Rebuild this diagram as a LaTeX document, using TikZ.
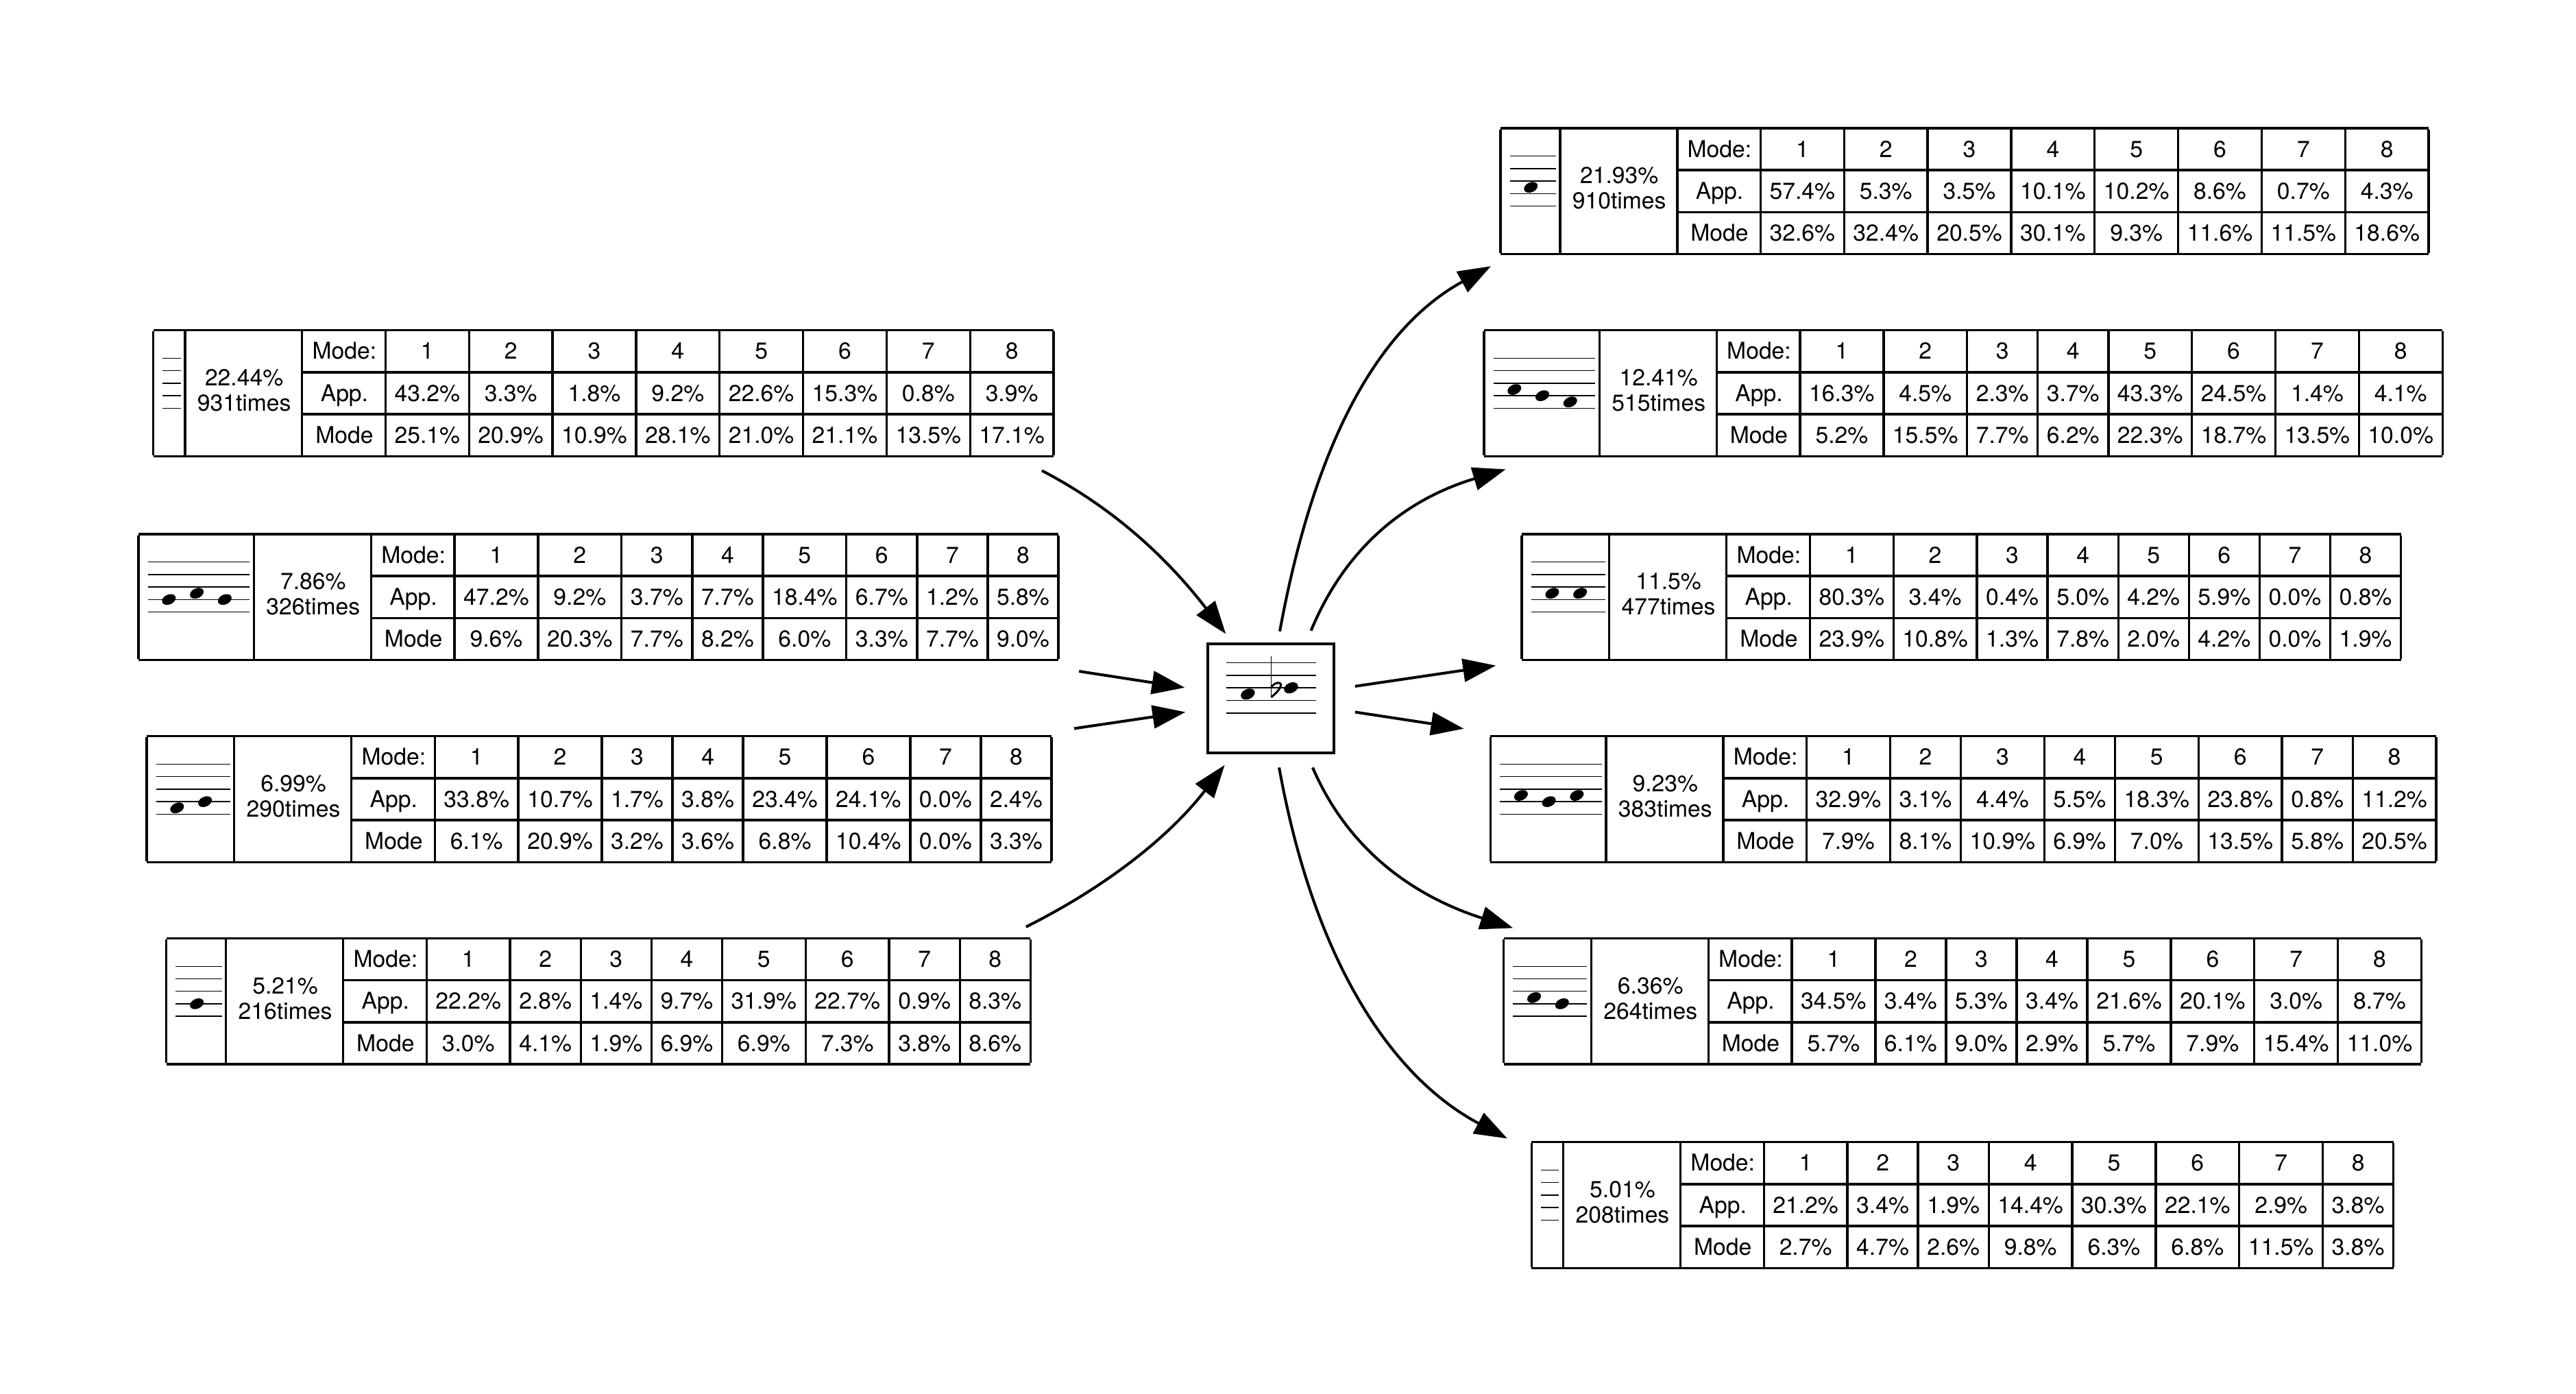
\documentclass[tikz,border=0pt]{standalone}
\usepackage{fontspec}
\setmainfont{TeX Gyre Heros}
\usetikzlibrary{arrows.meta,calc}
\setlength\tabcolsep{3.9pt}
\setlength\arrayrulewidth{1pt}
\renewcommand\arraystretch{1.43}

\newcommand\modetab[5]{%
\begin{tabular}{|@{}c@{}|@{}c@{}|@{}c@{}|}\hline
\hspace*{#1}&%
\makebox[1.765cm]{\def\arraystretch{0.91}\begin{tabular}{@{}c@{}}#2\\#3\end{tabular}}&%
\begin{tabular}{c|c|c|c|c|c|c|c|c}
Mode:&1&2&3&4&5&6&7&8\\\hline
App.&#4\\\hline
Mode&#5
\end{tabular}\\\hline
\end{tabular}}

\newcommand\staff[3]{%
\begin{scope}[shift={(#1.north west)}]
\foreach \k in {0,...,4} \draw[staffline] (6,18+7.6*\k) -- (17+17*#2,18+7.6*\k);
\ifnum#2>0
\foreach \p [count=\i from 0] in {#3}
  \fill[shift={(18.8+17*\i,48.4-3.8*\p)},rotate=25] (0,0) ellipse [x radius=4.4, y radius=3];
\fi
\end{scope}}

\tikzset{
  tab/.style={inner sep=0pt, anchor=north west},
  staffline/.style={line width=0.45pt},
  arr/.style={line width=1.2pt, -{Triangle[length=0.5cm, width=0.35cm]}}
}

\begin{document}
\begin{tikzpicture}[x=0.025cm, y=-0.025cm]
\useasboundingbox (0,0) rectangle (1568,848);

\node[draw, line width=1.2pt, minimum width=1.925cm, minimum height=1.66cm] (c) at (773.5,425) {};
\begin{scope}[shift={(c.north west)}]
  \foreach \k in {0,...,4} \draw[staffline] (12.4,12.3+7.65*\k) -- (67.1,12.3+7.65*\k);
  \fill[shift={(25.4,31.4)},rotate=25] (0,0) ellipse [x radius=4.5, y radius=3.1];
  \fill[shift={(51.7,27.6)},rotate=25] (0,0) ellipse [x radius=4.5, y radius=3.1];
  \draw[line width=0.5pt] (39.6,8.5) -- (39.6,33.4);
  \draw[line width=0.9pt] (39.6,27.3) .. controls (42,23.6) and (46.6,23.8) .. (45.3,26.8)
    .. controls (44.5,29.3) and (41.5,31.8) .. (39.6,33.3);
\end{scope}

\node[tab] (L1) at (93,200) {\modetab{0.465cm}{22.44\%}{931times}
  {43.2\%&3.3\%&1.8\%&9.2\%&22.6\%&15.3\%&0.8\%&3.9\%}
  {25.1\%&20.9\%&10.9\%&28.1\%&21.0\%&21.1\%&13.5\%&17.1\%}};
\node[tab] (L2) at (84,324) {\modetab{1.74cm}{7.86\%}{326times}
  {47.2\%&9.2\%&3.7\%&7.7\%&18.4\%&6.7\%&1.2\%&5.8\%}
  {9.6\%&20.3\%&7.7\%&8.2\%&6.0\%&3.3\%&7.7\%&9.0\%}};
\node[tab] (L3) at (89,447) {\modetab{1.315cm}{6.99\%}{290times}
  {33.8\%&10.7\%&1.7\%&3.8\%&23.4\%&24.1\%&0.0\%&2.4\%}
  {6.1\%&20.9\%&3.2\%&3.6\%&6.8\%&10.4\%&0.0\%&3.3\%}};
\node[tab] (L4) at (101,570) {\modetab{0.89cm}{5.21\%}{216times}
  {22.2\%&2.8\%&1.4\%&9.7\%&31.9\%&22.7\%&0.9\%&8.3\%}
  {3.0\%&4.1\%&1.9\%&6.9\%&6.9\%&7.3\%&3.8\%&8.6\%}};

\node[tab] (R1) at (913,77) {\modetab{0.89cm}{21.93\%}{910times}
  {57.4\%&5.3\%&3.5\%&10.1\%&10.2\%&8.6\%&0.7\%&4.3\%}
  {32.6\%&32.4\%&20.5\%&30.1\%&9.3\%&11.6\%&11.5\%&18.6\%}};
\node[tab] (R2) at (903,200) {\modetab{1.74cm}{12.41\%}{515times}
  {16.3\%&4.5\%&2.3\%&3.7\%&43.3\%&24.5\%&1.4\%&4.1\%}
  {5.2\%&15.5\%&7.7\%&6.2\%&22.3\%&18.7\%&13.5\%&10.0\%}};
\node[tab] (R3) at (926,324) {\modetab{1.315cm}{11.5\%}{477times}
  {80.3\%&3.4\%&0.4\%&5.0\%&4.2\%&5.9\%&0.0\%&0.8\%}
  {23.9\%&10.8\%&1.3\%&7.8\%&2.0\%&4.2\%&0.0\%&1.9\%}};
\node[tab] (R4) at (907,447) {\modetab{1.74cm}{9.23\%}{383times}
  {32.9\%&3.1\%&4.4\%&5.5\%&18.3\%&23.8\%&0.8\%&11.2\%}
  {7.9\%&8.1\%&10.9\%&6.9\%&7.0\%&13.5\%&5.8\%&20.5\%}};
\node[tab] (R5) at (915,570) {\modetab{1.315cm}{6.36\%}{264times}
  {34.5\%&3.4\%&5.3\%&3.4\%&21.6\%&20.1\%&3.0\%&8.7\%}
  {5.7\%&6.1\%&9.0\%&2.9\%&5.7\%&7.9\%&15.4\%&11.0\%}};
\node[tab] (R6) at (932,694) {\modetab{0.465cm}{5.01\%}{208times}
  {21.2\%&3.4\%&1.9\%&14.4\%&30.3\%&22.1\%&2.9\%&3.8\%}
  {2.7\%&4.7\%&2.6\%&9.8\%&6.3\%&6.8\%&11.5\%&3.8\%}};

\staff{L1}{0}{}
\staff{L2}{3}{2,3,2}
\staff{L3}{2}{1,2}
\staff{L4}{1}{2}
\staff{R1}{1}{3}
\staff{R2}{3}{3,2,1}
\staff{R3}{2}{3,3}
\staff{R4}{3}{3,2,3}
\staff{R5}{2}{3,2}
\staff{R6}{0}{}

\draw[arr] ($(L1.south east)+(-7.4,7.8)$) .. controls +(46,24) and +(-34,-44) .. ($(c.north west)+(12,-5.2)$);
\draw[arr] ($(L2.south east)+(12.3,5.9)$) -- ($(c.west)+(-13,-6.6)$);
\draw[arr] ($(L3.north east)+(13.5,-3.7)$) -- ($(c.west)+(-12.6,8.3)$);
\draw[arr] ($(L4.north east)+(-3,-6)$) .. controls +(48,-24) and +(-34,44) .. ($(c.south west)+(11.3,6.5)$);

\draw[arr] ($(c.north)+(5.5,-6.8)$) .. controls +(22,-120) and +(-66,36) .. ($(R1.south west)+(-5.5,6.4)$);
\draw[arr] ($(c.north)+(24.5,-7.2)$) .. controls +(25,-60) and +(-50,15) .. ($(R2.south west)+(13.5,7)$);
\draw[arr] ($(c.east)+(12,-7.4)$) -- ($(R3.south west)+(-15.5,2.4)$);
\draw[arr] ($(c.east)+(12,8.3)$) -- ($(R4.north west)+(-16,-3.6)$);
\draw[arr] ($(c.south)+(25.5,8)$) .. controls +(25,58) and +(-50,-16) .. ($(R5.north west)+(6,-5.3)$);
\draw[arr] ($(c.south)+(5.1,8)$) .. controls +(22,122) and +(-68,-36) .. ($(R6.north west)+(-14.5,-1.2)$);
\end{tikzpicture}
\end{document}
